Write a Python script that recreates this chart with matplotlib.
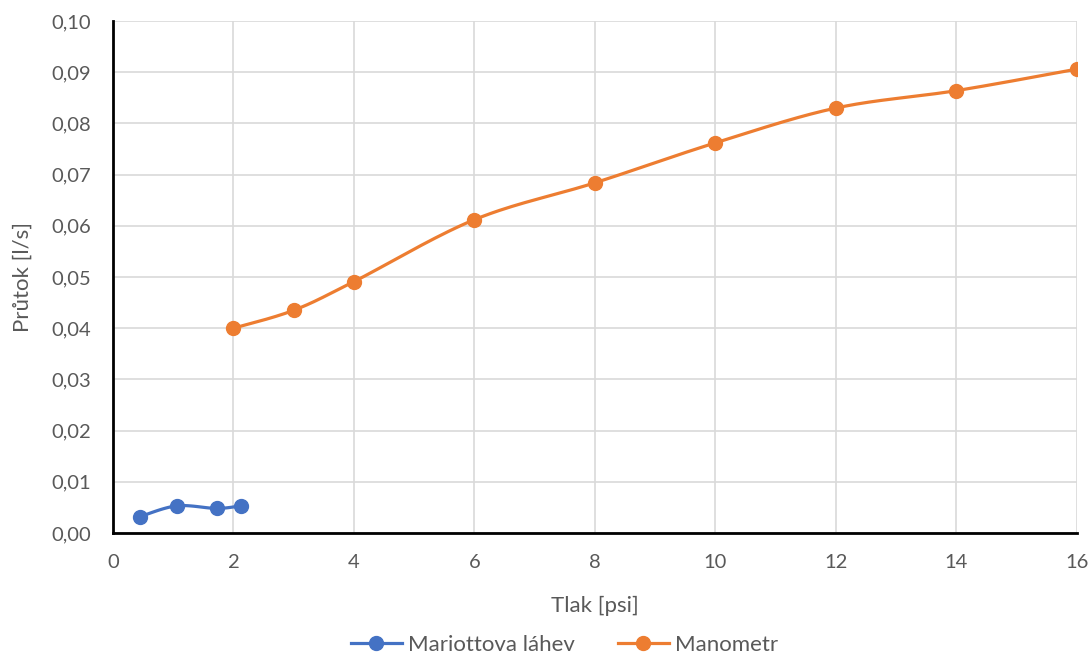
import numpy as np
import matplotlib.pyplot as plt
from matplotlib.lines import Line2D

plt.rcParams['font.family'] = ['Lato', 'DejaVu Sans']

# Mariottova láhev
mar_x = [0.45, 1.06, 1.72, 2.12]
mar_y = [0.0032, 0.0053, 0.0048, 0.0053]

# Manometr
man_x = [2, 3, 4, 6, 8, 10, 12, 14, 16]
man_y = [0.0400, 0.0435, 0.0491, 0.0612, 0.0684, 0.0762, 0.0830, 0.0864, 0.0906]

x_ticks = list(range(0, 17, 2))
y_ticks = [i / 100 for i in range(0, 11)]

blue = '#4472C4'
orange = '#ED7D31'
grey_text = '#595959'


def smooth(xs, ys, n=30):
    # cubic bezier through the points, control points from neighbours (Excel-like smoothing)
    p = np.column_stack([xs, ys]).astype(float)
    out = [p[0]]
    for i in range(len(p) - 1):
        p0 = p[i - 1] if i > 0 else p[i]
        p1, p2 = p[i], p[i + 1]
        p3 = p[i + 2] if i + 2 < len(p) else p[i + 1]
        c1 = p1 + (p2 - p0) / 6
        c2 = p2 - (p3 - p1) / 6
        t = np.linspace(0, 1, n)[1:, None]
        seg = (1 - t) ** 3 * p1 + 3 * (1 - t) ** 2 * t * c1 + 3 * (1 - t) * t ** 2 * c2 + t ** 3 * p2
        out.extend(seg)
    out = np.array(out)
    return out[:, 0], out[:, 1]


fig = plt.figure(figsize=(10.92, 6.53), dpi=100)
ax = fig.add_axes([0.1035, 0.1838, 0.8825, 0.7840])

for xs, ys, c in [(mar_x, mar_y, blue), (man_x, man_y, orange)]:
    sx, sy = smooth(xs, ys)
    ax.plot(sx, sy, color=c, lw=2.3, zorder=3, solid_capstyle='round')
    ax.plot(xs, ys, 'o', color=c, ms=10, zorder=4)

ax.set_xlim(0, 16)
ax.set_ylim(0, 0.10)
ax.set_xticks(x_ticks)
ax.set_yticks(y_ticks)
ax.set_xticklabels([str(v) for v in x_ticks])
ax.set_yticklabels([f'{v:.2f}'.replace('.', ',') for v in y_ticks])
ax.grid(True, color='#D9D9D9', lw=1.2, zorder=0)
ax.tick_params(length=0, labelsize=14.5, colors=grey_text)
ax.tick_params(axis='y', pad=16)
ax.tick_params(axis='x', pad=15)

for s in ['top', 'right']:
    ax.spines[s].set_visible(False)
for s in ['left', 'bottom']:
    ax.spines[s].set_color('black')
    ax.spines[s].set_linewidth(2)
    ax.spines[s].set_zorder(5)

ax.set_xlabel('Tlak [psi]', fontsize=16, color=grey_text, labelpad=18)
ax.set_ylabel('Průtok [l/s]', fontsize=16, color=grey_text, labelpad=13)

handles = [Line2D([], [], color=blue, lw=2.3, marker='o', ms=10),
           Line2D([], [], color=orange, lw=2.3, marker='o', ms=10)]
fig.legend(handles, ['Mariottova láhev', 'Manometr'], loc='center',
           bbox_to_anchor=(0.517, 0.012), ncol=2, frameon=False,
           fontsize=16, labelcolor=grey_text, handlelength=2.3,
           handletextpad=0.3, columnspacing=1.9)

fig.savefig('out.png', dpi=100)
